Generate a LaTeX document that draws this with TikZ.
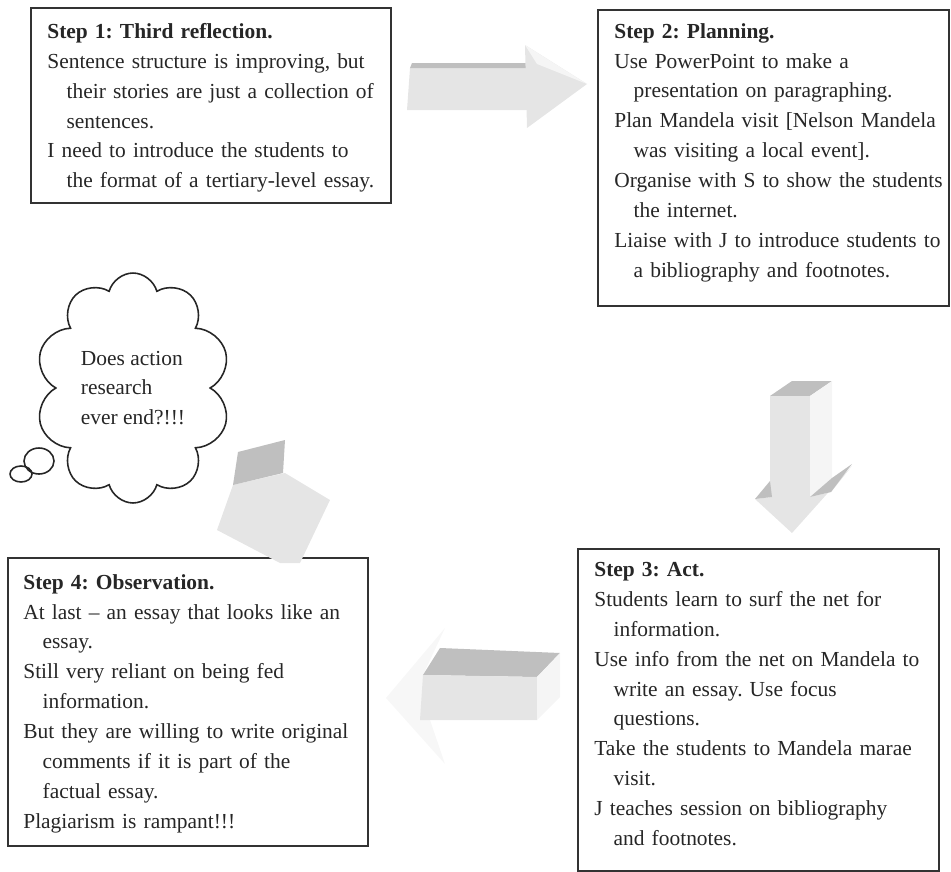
\documentclass[tikz,border=0pt]{standalone}
\usepackage{fontspec}
\setmainfont{Liberation Serif}
\usetikzlibrary{positioning, shapes.geometric, shapes.symbols}
\newcommand{\wrapind}{\hspace*{0.9em}}
\frenchspacing

\begin{document}
\begin{tikzpicture}[x=0.02cm, y=-0.02cm,
  stepframe/.style={rectangle, draw=black!80, line width=0.9pt, inner sep=0pt, anchor=north west},
  steptext/.style={inner sep=0pt, text width=6.8cm, align=left, anchor=north west, text=black!85,
                   font=\fontsize{12.2}{17}\selectfont},
  arrowlit/.style={fill=gray!20},
  arrowdark/.style={fill=gray!50},
  arrowside/.style={fill=gray!8}
]
  \useasboundingbox (0,0) rectangle (951,872);

  \node[stepframe, minimum width=7.2cm, minimum height=3.9cm] (frame1) at (30,7) {};
  \node[stepframe, minimum width=7.02cm, minimum height=5.92cm] (frame2) at (597,9) {};
  \node[stepframe, minimum width=7.22cm, minimum height=6.44cm] (frame3) at (577,548) {};
  \node[stepframe, minimum width=7.2cm, minimum height=5.76cm] (frame4) at (7,557) {};

  \node[steptext] (text1) at ([shift={(17,16)}]frame1.north west) {\textbf{Step 1: Third reflection.}\\
    Sentence structure is improving, but\\
    \wrapind their stories are just a collection of\\
    \wrapind sentences.\\
    I need to introduce the students to\\
    \wrapind the format of a tertiary-level essay.};
  \node[steptext] (text2) at ([shift={(17,14)}]frame2.north west) {\textbf{Step 2: Planning.}\\
    Use PowerPoint to make a\\
    \wrapind presentation on paragraphing.\\
    Plan Mandela visit [Nelson Mandela\\
    \wrapind was visiting a local event].\\
    Organise with S to show the students\\
    \wrapind the internet.\\
    Liaise with J to introduce students to\\
    \wrapind a bibliography and footnotes.};
  \node[steptext] (text3) at ([shift={(17,14)}]frame3.north west) {\textbf{Step 3: Act.}\\
    Students learn to surf the net for\\
    \wrapind information.\\
    Use info from the net on Mandela to\\
    \wrapind write an essay. Use focus\\
    \wrapind questions.\\
    Take the students to Mandela marae\\
    \wrapind visit.\\
    J teaches session on bibliography\\
    \wrapind and footnotes.};
  \node[steptext] (text4) at ([shift={(16,17)}]frame4.north west) {\textbf{Step 4: Observation.}\\
    At last -- an essay that looks like an\\
    \wrapind essay.\\
    Still very reliant on being fed\\
    \wrapind information.\\
    But they are willing to write original\\
    \wrapind comments if it is part of the\\
    \wrapind factual essay.\\
    Plagiarism is rampant!!!};

  \node[cloud, draw=black!85, line width=0.9pt, cloud puffs=10, cloud ignores aspect,
        minimum width=3.9cm, minimum height=4.6cm, align=left, text=black!85,
        font=\fontsize{12.2}{17}\selectfont] (thought) at (133,388)
        {Does action\\research\\ever end?!!!};
  \node[ellipse, draw=black!85, line width=0.9pt, inner sep=0pt,
        minimum width=0.6cm, minimum height=0.52cm] (bubbleA) at (39,461) {};
  \node[ellipse, draw=black!85, line width=0.9pt, inner sep=0pt,
        minimum width=0.44cm, minimum height=0.32cm] (bubbleB) at (21,474) {};

  \fill[arrowlit] (410,68) -- (527,68) -- (527,110) -- (407,110) -- cycle;
  \fill[arrowdark] (412,63) -- (532,63) -- (527,68) -- (410,68) -- cycle;
  \fill[arrowlit] (525,45) -- (587,84) -- (527,128) -- cycle;
  \fill[arrowside] (525,45) -- (587,84) -- (537,64) -- cycle;

  \fill[arrowdark] (770,396) -- (792,381) -- (832,381) -- (810,396) -- cycle;
  \fill[arrowlit] (770,396) -- (810,396) -- (810,497) -- (770,497) -- cycle;
  \fill[arrowside] (810,396) -- (832,381) -- (832,478) -- (810,497) -- cycle;
  \fill[arrowlit] (755,499) -- (772,497) -- (810,497) -- (831,492) -- (852,466) -- (792,533) -- cycle;
  \fill[arrowdark] (755,499) -- (770,481) -- (772,497) -- cycle;
  \fill[arrowdark] (810,497) -- (832,478) -- (852,464) -- (831,492) -- cycle;

  \fill[gray!6] (445,628) -- (386,698) -- (445,764) -- (430,720) -- (423,675) -- cycle;
  \fill[arrowdark] (440,648) -- (560,653) -- (537,677) -- (423,675) -- cycle;
  \fill[arrowlit] (423,675) -- (537,677) -- (537,720) -- (420,720) -- cycle;
  \fill[arrowside] (560,653) -- (560,697) -- (537,720) -- (537,677) -- cycle;

  \fill[arrowlit] (233,485) -- (217,530) -- (280,563) -- (300,563) -- (330,500) -- (285,473) -- cycle;
  \fill[arrowdark] (238,452) -- (285,440) -- (283,473) -- (233,485) -- cycle;
\end{tikzpicture}
\end{document}
